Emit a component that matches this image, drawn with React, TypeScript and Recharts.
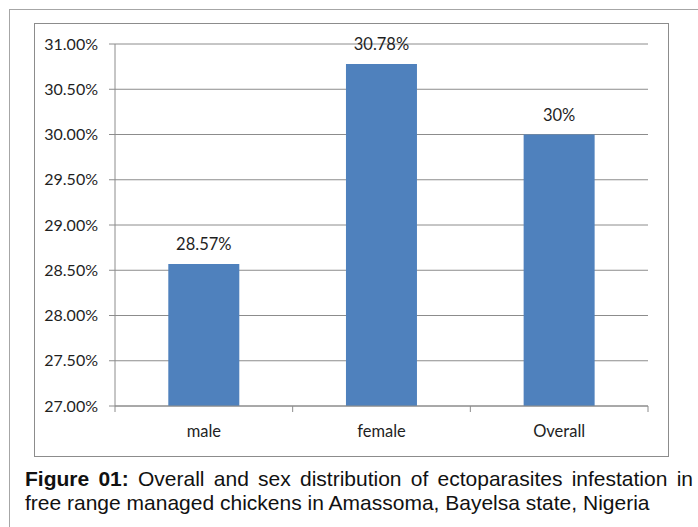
import React from "react";
import { BarChart, Bar, XAxis, YAxis, CartesianGrid, LabelList } from "recharts";

const categories = ["male", "female", "Overall"];
const infestation = [28.57, 30.78, 30.0];
const valueLabels = ["28.57%", "30.78%", "30%"];
const yTicks = [27, 27.5, 28, 28.5, 29, 29.5, 30, 30.5, 31];
const captionBold = "Figure 01:";
const captionLine1 = " Overall and sex distribution of ectoparasites infestation in";
const captionLine2 = "free range managed chickens in Amassoma, Bayelsa state, Nigeria";

const data = categories.map((c, i) => ({ name: c, value: infestation[i], label: valueLabels[i] }));

const CHART_FONT = "Lato, 'Open Sans', sans-serif";
const AXIS_GRAY = "#8c8c8c";

const XTick = (props: any) => {
  const { x, y, payload, index, visibleTicksCount, width } = props;
  const band = (width || 533) / (visibleTicksCount || 3);
  const left = x - band / 2;
  const right = x + band / 2;
  return (
    <g>
      <line x1={left} y1={y} x2={left} y2={y + 6} stroke={AXIS_GRAY} />
      {index === visibleTicksCount - 1 && (
        <line x1={right} y1={y} x2={right} y2={y + 6} stroke={AXIS_GRAY} />
      )}
      <text x={x} y={y + 31} textAnchor="middle" fontSize={16.5} fill="#1f1f1f" fontFamily={CHART_FONT}>
        {payload.value}
      </text>
    </g>
  );
};

export default function App() {
  return (
    <div style={{ position: "absolute", left: 0, top: 0, width: 698, height: 527, background: "#fff", overflow: "hidden" }}>
      <div style={{ position: "absolute", left: 9, top: 9, width: 720, height: 540, borderLeft: "1px solid #a6a6a6", borderTop: "1px solid #a6a6a6" }} />
      <div style={{ position: "absolute", left: 34, top: 23, width: 635, height: 434, boxSizing: "border-box", border: "1px solid #8c8c8c" }} />
      <div style={{ position: "absolute", left: 34, top: 23 }}>
        <BarChart width={635} height={433} data={data} margin={{ top: 21, right: 21, bottom: 0, left: 0 }} barCategoryGap="30%">
          <CartesianGrid vertical={false} stroke={AXIS_GRAY} />
          <XAxis
            dataKey="name"
            height={50}
            stroke={AXIS_GRAY}
            tickLine={false}
            tickSize={0}
            tickMargin={0}
            tick={<XTick />}
            interval={0}
          />
          <YAxis
            width={81}
            domain={[27, 31]}
            ticks={yTicks}
            stroke={AXIS_GRAY}
            tickSize={6}
            tickMargin={11}
            tick={{ fontSize: 16, fill: "#1f1f1f", fontFamily: CHART_FONT }}
            tickFormatter={(v: number) => v.toFixed(2) + "%"}
            interval={0}
          />
          <Bar dataKey="value" fill="#4f81bd" isAnimationActive={false}>
            <LabelList dataKey="label" position="top" offset={14} fontSize={16.5} fill="#1f1f1f" fontFamily={CHART_FONT} />
          </Bar>
        </BarChart>
      </div>
      <div style={{ position: "absolute", left: 25, top: 467, width: 668, fontFamily: "'Liberation Sans', Arial, sans-serif", fontSize: 21, lineHeight: "24px", color: "#111" }}>
        <div style={{ textAlign: "justify", textAlignLast: "justify" as any, whiteSpace: "nowrap" }}>
          <b>{captionBold}</b>{captionLine1}
        </div>
        <div>{captionLine2}</div>
      </div>
    </div>
  );
}
